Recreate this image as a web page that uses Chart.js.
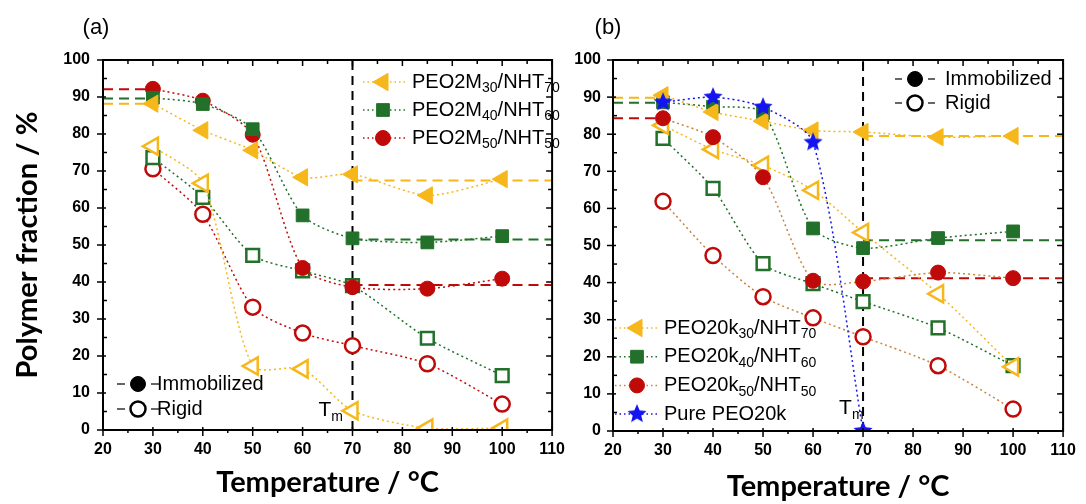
<!DOCTYPE html>
<html>
<head>
<meta charset="utf-8">
<script src="https://cdn.jsdelivr.net/npm/chart.js@4.4.1/dist/chart.umd.min.js"></script>
<style>
  html, body { margin: 0; padding: 0; background: #fff; }
  #wrap { position: relative; width: 1086px; height: 504px; overflow: hidden; }
  canvas { position: absolute; top: 0; }
  #chartA { left: 0; }
  #chartB { left: 575px; }
</style>
</head>
<body>
<div id="wrap">
  <canvas id="chartA" width="575" height="504"></canvas>
  <canvas id="chartB" width="511" height="504"></canvas>
</div>
<script>
// temperatures (°C)
const temps = [30, 40, 50, 60, 70, 85, 100];
const pureTemps = [30, 40, 50, 60, 70];

// panel (a) PEO2M / NHT, polymer fraction (%)
const aImm30 = [88.2, 81.0, 75.6, 68.3, 69.1, 63.4, 67.8];
const aImm40 = [89.8, 88.1, 81.3, 58.0, 51.8, 50.7, 52.4];
const aImm50 = [92.2, 89.0, 79.8, 43.8, 38.6, 38.2, 40.9];
const aRig30 = [76.7, 66.7, 17.3, 16.5, 5.2, 0.5, 0.5];
const aRig40 = [73.6, 62.9, 47.2, 43.0, 39.0, 24.8, 14.7];
const aRig50 = [70.6, 58.3, 33.2, 26.2, 22.8, 17.9, 7.0];
const aLevelLeft = [88.2, 89.6, 92.1];   // 30, 40, 50 series, 20..30
const aLevelRight = [67.4, 51.5, 39.2];  // 70..110

// panel (b) PEO20k / NHT
const bImm30 = [90.5, 86.0, 83.5, 81.0, 80.6, 79.2, 79.5];
const bImm40 = [88.6, 87.4, 85.7, 54.6, 49.3, 52.0, 53.8];
const bImm50 = [84.3, 79.2, 68.4, 40.5, 40.3, 42.7, 41.2];
const bRig30 = [82.4, 75.9, 71.6, 64.9, 53.5, 37.0, 17.3];
const bRig40 = [78.9, 65.4, 45.1, 39.7, 34.9, 27.8, 17.6];
const bRig50 = [61.9, 47.3, 36.2, 30.5, 25.4, 17.6, 5.9];
const bPure = [88.6, 90.0, 87.3, 77.8, 0];
const bLevelLeft = [89.8, 88.5, 84.3];
const bLevelRight = [79.5, 51.4, 41.2];

const tm = 70;
const xTicks = { min: 20, max: 110, step: 10 };
const yTicks = { min: 0, max: 100, step: 10 };

const ORANGE = '#F6B71A';
const GREEN = '#22702A';
const RED = '#C00A0A';
const BROWN = '#C8843C';
const BLUE = '#1414F0';

const pts = (xs, ys) => xs.map((x, i) => ({ x, y: ys[i] }));

function makeStar(r, color) {
  const c = document.createElement('canvas');
  c.width = c.height = 2 * r + 2;
  const g = c.getContext('2d');
  g.fillStyle = color;
  g.beginPath();
  for (let i = 0; i < 10; i++) {
    const rr = i % 2 ? r * 0.45 : r;
    const an = -Math.PI / 2 + i * Math.PI / 5;
    g.lineTo(r + 1 + rr * Math.cos(an), r + 1 + rr * Math.sin(an));
  }
  g.closePath();
  g.fill();
  return c;
}
const star = makeStar(10, BLUE);

const marker = {
  tri: { pointStyle: 'triangle', rotation: -90, radius: 10 },
  sq: { pointStyle: 'rect', rotation: 0, radius: 9 },
  circ: { pointStyle: 'circle', rotation: 0, radius: 7.5 },
  star: { pointStyle: star, rotation: 0, radius: 10 }
};

function series(xs, ys, m, color, lineColor, filled) {
  return {
    data: pts(xs, ys),
    borderColor: lineColor,
    borderWidth: 1.5,
    borderDash: [2, 3],
    tension: 0.25,
    pointStyle: m.pointStyle,
    rotation: m.rotation,
    pointRotation: m.rotation,
    pointRadius: m.radius,
    pointBackgroundColor: filled ? color : '#fff',
    pointBorderColor: color,
    pointBorderWidth: filled ? 1 : 2.5
  };
}

function level(x0, x1, v, color) {
  return {
    data: [{ x: x0, y: v }, { x: x1, y: v }],
    borderColor: color, borderWidth: 2, borderDash: [10, 6], pointRadius: 0, tension: 0
  };
}

function tmLine() {
  return {
    data: [{ x: tm, y: yTicks.min }, { x: tm, y: yTicks.max }],
    borderColor: '#000', borderWidth: 2, borderDash: [9, 6], pointRadius: 0, tension: 0
  };
}

const font = '"Liberation Sans", Arial, sans-serif';

function rich(ctx, segs, x, y, size) {
  ctx.textBaseline = 'middle';
  ctx.textAlign = 'left';
  for (const [t, sub] of segs) {
    ctx.font = (sub ? Math.round(size * 0.68) : size) + 'px ' + font;
    ctx.fillText(t, x, sub ? y + size * 0.32 : y);
    x += ctx.measureText(t).width;
  }
}

function drawMarker(ctx, m, color, filled, x, y) {
  ctx.save();
  ctx.fillStyle = filled ? color : '#fff';
  ctx.strokeStyle = color;
  ctx.lineWidth = filled ? 1 : 2.5;
  Chart.helpers.drawPoint(ctx, { pointStyle: m.pointStyle, rotation: m.rotation, radius: m.radius, borderWidth: filled ? 1 : 2.5 }, x, y);
  ctx.restore();
}

function hline(ctx, x0, x1, y, color, dash, w) {
  ctx.save();
  ctx.strokeStyle = color; ctx.lineWidth = w; ctx.setLineDash(dash);
  ctx.beginPath(); ctx.moveTo(x0, y); ctx.lineTo(x1, y); ctx.stroke();
  ctx.restore();
}

// frame with Origin-like ticks on all four sides
const frameTicks = {
  id: 'frameTicks',
  afterDatasetsDraw(chart) {
    const { ctx, chartArea: a, scales: { x, y } } = chart;
    const seg = (x0, y0, x1, y1) => { ctx.beginPath(); ctx.moveTo(x0, y0); ctx.lineTo(x1, y1); ctx.stroke(); };
    ctx.save();
    ctx.strokeStyle = '#000';
    ctx.lineWidth = 2;
    ctx.strokeRect(a.left, a.top, a.right - a.left, a.bottom - a.top);
    ctx.lineWidth = 1.5;
    for (let v = xTicks.min; v <= xTicks.max; v += xTicks.step / 2) {
      const px = x.getPixelForValue(v);
      const major = v % xTicks.step === 0;
      seg(px, a.bottom - (major ? 3 : 0), px, a.bottom + (major ? 6 : 3));
      seg(px, a.top, px, a.top + (major ? 6 : 4));
    }
    for (let v = yTicks.min; v <= yTicks.max; v += yTicks.step / 2) {
      const py = y.getPixelForValue(v);
      const major = v % yTicks.step === 0;
      seg(a.left - (major ? 6 : 0), py, a.left + (major ? 3 : 4), py);
      seg(a.right, py, a.right - (major ? 6 : 4), py);
    }
    ctx.restore();
  }
};

function makeChart(id, datasets, o) {
  return new Chart(document.getElementById(id), {
    type: 'line',
    data: { datasets },
    options: {
      responsive: false,
      animation: false,
      events: [],
      layout: { padding: o.padding },
      plugins: { legend: { display: false }, tooltip: { enabled: false } },
      scales: {
        x: {
          type: 'linear', min: xTicks.min, max: xTicks.max,
          afterFit: s => { s.height = o.xh; },
          grid: { display: false, drawTicks: false },
          border: { display: false },
          ticks: { stepSize: xTicks.step, color: '#000', padding: 10, font: { family: font, size: 16, weight: 'bold' } },
          title: { display: true, text: 'Temperature / °C', color: '#000', padding: { top: 0, bottom: o.xtpad },
                   font: { family: 'Lato', size: 29, weight: 'bold' } }
        },
        y: {
          type: 'linear', min: yTicks.min, max: yTicks.max,
          afterFit: s => { s.width = o.yw; },
          grid: { display: false, drawTicks: false },
          border: { display: false },
          ticks: { stepSize: yTicks.step, color: '#000', padding: o.ytpad, font: { family: font, size: 16, weight: 'bold' } },
          title: { display: o.ytitle, text: 'Polymer fraction / %', color: '#000', padding: { top: 10, bottom: 0 },
                   font: { family: 'Lato', size: 29, weight: 'bold' } }
        }
      }
    },
    plugins: [frameTicks, o.extra]
  });
}

// ---------- panel (a)
const aDatasets = [
  series(temps, aImm30, marker.tri, ORANGE, ORANGE, true),
  series(temps, aImm40, marker.sq, GREEN, GREEN, true),
  series(temps, aImm50, marker.circ, RED, RED, true),
  series(temps, aRig30, marker.tri, ORANGE, ORANGE, false),
  series(temps, aRig40, marker.sq, GREEN, GREEN, false),
  series(temps, aRig50, marker.circ, RED, RED, false),
  level(tm, xTicks.max, aLevelRight[0], ORANGE),
  level(tm, xTicks.max, aLevelRight[1], GREEN),
  level(tm, xTicks.max, aLevelRight[2], RED),
  level(xTicks.min, 30, aLevelLeft[0], ORANGE),
  level(xTicks.min, 30, aLevelLeft[1], GREEN),
  level(xTicks.min, 30, aLevelLeft[2], RED),
  tmLine()
];

const aExtra = {
  id: 'aExtra',
  afterDraw(chart) {
    const { ctx, chartArea: a, scales: { x, y } } = chart;
    ctx.save();
    ctx.fillStyle = '#000';
    ctx.font = '22px ' + font;
    ctx.textAlign = 'center'; ctx.textBaseline = 'middle';
    ctx.fillText('(a)', 96, 28);
    rich(ctx, [['T'], ['m', 1]], x.getPixelForValue(tm) - 34, y.getPixelForValue(5.4), 21);
    // series legend, top right
    const items = [
      [marker.tri, ORANGE, [['PEO2M'], ['30', 1], ['/NHT'], ['70', 1]]],
      [marker.sq, GREEN, [['PEO2M'], ['40', 1], ['/NHT'], ['60', 1]]],
      [marker.circ, RED, [['PEO2M'], ['50', 1], ['/NHT'], ['50', 1]]]
    ];
    items.forEach(([m, c, segs], i) => {
      const ly = a.top + 22 + i * 28;
      hline(ctx, a.left + 260, a.left + 302, ly, c, [1.5, 3], 1.5);
      drawMarker(ctx, m, c, true, a.left + 280, ly);
      ctx.fillStyle = '#000';
      rich(ctx, segs, a.left + 309, ly, 20);
    });
    // state legend, bottom left
    [['Immobilized', true], ['Rigid', false]].forEach(([t, filled], i) => {
      const ly = a.top + 324 + i * 25;
      hline(ctx, a.left + 14, a.left + 22, ly, '#000', [], 1.2);
      hline(ctx, a.left + 48, a.left + 56, ly, '#000', [], 1.2);
      drawMarker(ctx, marker.circ, '#000', filled, a.left + 35, ly);
      ctx.fillStyle = '#000';
      rich(ctx, [[t]], a.left + 54, ly, 20);
    });
    ctx.restore();
  }
};

makeChart('chartA', aDatasets, {
  padding: { left: 0, right: 15, top: 60, bottom: 0 },
  xh: 74, yw: 103, xtpad: 4, ytpad: 13, ytitle: true, extra: aExtra
});

// ---------- panel (b)
const bDatasets = [
  series(pureTemps, bPure, marker.star, BLUE, BLUE, true),
  series(temps, bImm30, marker.tri, ORANGE, ORANGE, true),
  series(temps, bImm40, marker.sq, GREEN, GREEN, true),
  series(temps, bImm50, marker.circ, RED, BROWN, true),
  series(temps, bRig30, marker.tri, ORANGE, ORANGE, false),
  series(temps, bRig40, marker.sq, GREEN, GREEN, false),
  series(temps, bRig50, marker.circ, RED, BROWN, false),
  level(tm, xTicks.max, bLevelRight[0], ORANGE),
  level(tm, xTicks.max, bLevelRight[1], GREEN),
  level(tm, xTicks.max, bLevelRight[2], RED),
  level(xTicks.min, 30, bLevelLeft[0], ORANGE),
  level(xTicks.min, 30, bLevelLeft[1], GREEN),
  level(xTicks.min, 30, bLevelLeft[2], RED),
  tmLine()
];

const bExtra = {
  id: 'bExtra',
  afterDraw(chart) {
    const { ctx, chartArea: a, scales: { x, y } } = chart;
    ctx.save();
    ctx.fillStyle = '#000';
    ctx.font = '22px ' + font;
    ctx.textAlign = 'center'; ctx.textBaseline = 'middle';
    ctx.fillText('(b)', 33, 28);
    rich(ctx, [['T'], ['m', 1]], x.getPixelForValue(tm) - 24, y.getPixelForValue(6.2), 21);
    // state legend, top right
    [['Immobilized', true], ['Rigid', false]].forEach(([t, filled], i) => {
      const ly = a.top + 19 + i * 24;
      hline(ctx, a.left + 282, a.left + 289, ly, '#000', [], 1.2);
      hline(ctx, a.left + 315, a.left + 322, ly, '#000', [], 1.2);
      drawMarker(ctx, marker.circ, '#000', filled, a.left + 302, ly);
      ctx.fillStyle = '#000';
      rich(ctx, [[t]], a.left + 332, ly, 20);
    });
    // series legend, bottom left
    const items = [
      [marker.tri, ORANGE, ORANGE, [['PEO20k'], ['30', 1], ['/NHT'], ['70', 1]]],
      [marker.sq, GREEN, GREEN, [['PEO20k'], ['40', 1], ['/NHT'], ['60', 1]]],
      [marker.circ, RED, BROWN, [['PEO20k'], ['50', 1], ['/NHT'], ['50', 1]]],
      [marker.star, BLUE, BLUE, [['Pure PEO20k']]]
    ];
    items.forEach(([m, c, lc, segs], i) => {
      const ly = a.top + 268 + i * 28.7;
      hline(ctx, a.left + 2, a.left + 45, ly, lc, [1.5, 3], 1.5);
      drawMarker(ctx, m, c, true, a.left + 24, ly);
      ctx.fillStyle = '#000';
      rich(ctx, segs, a.left + 51, ly, 20);
    });
    ctx.restore();
  }
};

makeChart('chartB', bDatasets, {
  padding: { left: 0, right: 19, top: 60, bottom: 0 },
  xh: 73, yw: 38, xtpad: 0, ytpad: 12, ytitle: false, extra: bExtra
});
</script>
</body>
</html>
